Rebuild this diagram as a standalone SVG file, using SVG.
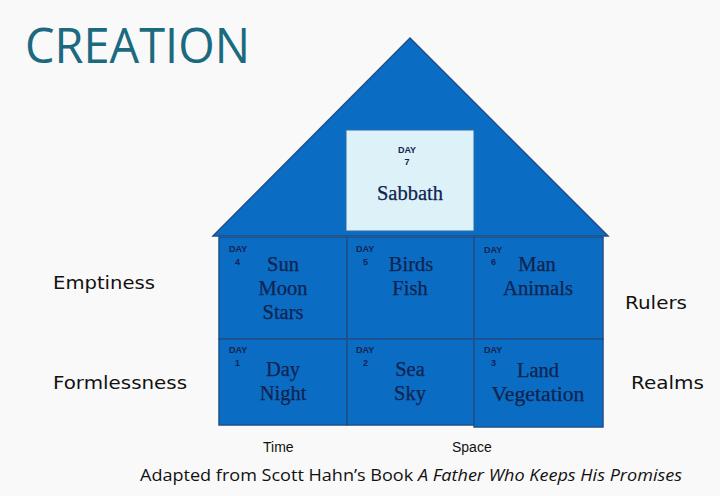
<svg xmlns="http://www.w3.org/2000/svg" width="720" height="496" viewBox="0 0 720 496">
<style>
.cell{fill:#0b6cc3;stroke:#1f4f86;stroke-width:1.5}
.serif{font-family:"Liberation Serif","DejaVu Serif",serif;font-size:20.5px;fill:#102450;text-anchor:middle;stroke:#102450;stroke-width:0.25}
.day{font-family:"Liberation Sans",Arial,sans-serif;font-size:9px;font-weight:bold;fill:#102450}
.side{font-family:"DejaVu Sans",Verdana,sans-serif;font-size:18px;fill:#111}
.axis{font-family:"Liberation Sans",Arial,sans-serif;font-size:14px;fill:#111}
</style>
<rect width="720" height="496" fill="#f9f9f9"/>
<text x="25" y="63" font-family="Open Sans, Liberation Sans, sans-serif" font-size="49" fill="#1b6a80" textLength="225" lengthAdjust="spacingAndGlyphs">CREATION</text>
<g id="roof">
<polygon points="410,38 608,236 213,236" fill="#0b6cc3" stroke="#1f4f86" stroke-width="1.5"/>
</g>
<g id="day7">
<rect x="346" y="130" width="128" height="101" fill="#dcf1f8" stroke="#2f6aa8" stroke-width="1"/>
<text class="day" x="407" y="153" text-anchor="middle">DAY</text>
<text class="day" x="407" y="165" text-anchor="middle">7</text>
<text class="serif" x="410" y="200">Sabbath</text>
</g>
<g id="day4">
<rect class="cell" x="219" y="237" width="128" height="102"/>
<text class="day" x="229" y="252">DAY</text>
<text class="day" x="235" y="265">4</text>
<text class="serif" x="283" y="271">Sun</text>
<text class="serif" x="283" y="295">Moon</text>
<text class="serif" x="283" y="319">Stars</text>
</g>
<g id="day5">
<rect class="cell" x="347" y="237" width="127" height="102"/>
<text class="day" x="356" y="252">DAY</text>
<text class="day" x="363" y="265">5</text>
<text class="serif" x="411" y="271">Birds</text>
<text class="serif" x="410" y="295">Fish</text>
</g>
<g id="day6">
<rect class="cell" x="474" y="237" width="129" height="102"/>
<text class="day" x="484" y="253">DAY</text>
<text class="day" x="491" y="265">6</text>
<text class="serif" x="537" y="271">Man</text>
<text class="serif" x="538" y="295" textLength="70" lengthAdjust="spacingAndGlyphs">Animals</text>
</g>
<g id="day1">
<rect class="cell" x="219" y="339" width="128" height="86"/>
<text class="day" x="229" y="353">DAY</text>
<text class="day" x="235" y="366">1</text>
<text class="serif" x="283" y="376">Day</text>
<text class="serif" x="283" y="400">Night</text>
</g>
<g id="day2">
<rect class="cell" x="347" y="339" width="127" height="86"/>
<text class="day" x="356" y="353">DAY</text>
<text class="day" x="363" y="366">2</text>
<text class="serif" x="410" y="376">Sea</text>
<text class="serif" x="410" y="400">Sky</text>
</g>
<g id="day3">
<rect class="cell" x="474" y="339" width="129" height="88"/>
<text class="day" x="484" y="353">DAY</text>
<text class="day" x="491" y="366">3</text>
<text class="serif" x="538" y="377">Land</text>
<text class="serif" x="538" y="401" textLength="93" lengthAdjust="spacingAndGlyphs">Vegetation</text>
</g>
<g id="labels">
<text class="side" x="53" y="289" textLength="102" lengthAdjust="spacingAndGlyphs">Emptiness</text>
<text class="side" x="53" y="389" textLength="134" lengthAdjust="spacingAndGlyphs">Formlessness</text>
<text class="side" x="625" y="309" textLength="62" lengthAdjust="spacingAndGlyphs">Rulers</text>
<text class="side" x="631" y="389" textLength="73" lengthAdjust="spacingAndGlyphs">Realms</text>
<text class="axis" x="263" y="452">Time</text>
<text class="axis" x="452" y="452">Space</text>
<text x="140" y="481" font-family="Open Sans, Liberation Sans, sans-serif" font-size="16" fill="#111" textLength="542" lengthAdjust="spacingAndGlyphs">Adapted from Scott Hahn’s Book <tspan font-style="italic">A Father Who Keeps His Promises</tspan></text>
</g>
<g id="connectors"/>
</svg>
